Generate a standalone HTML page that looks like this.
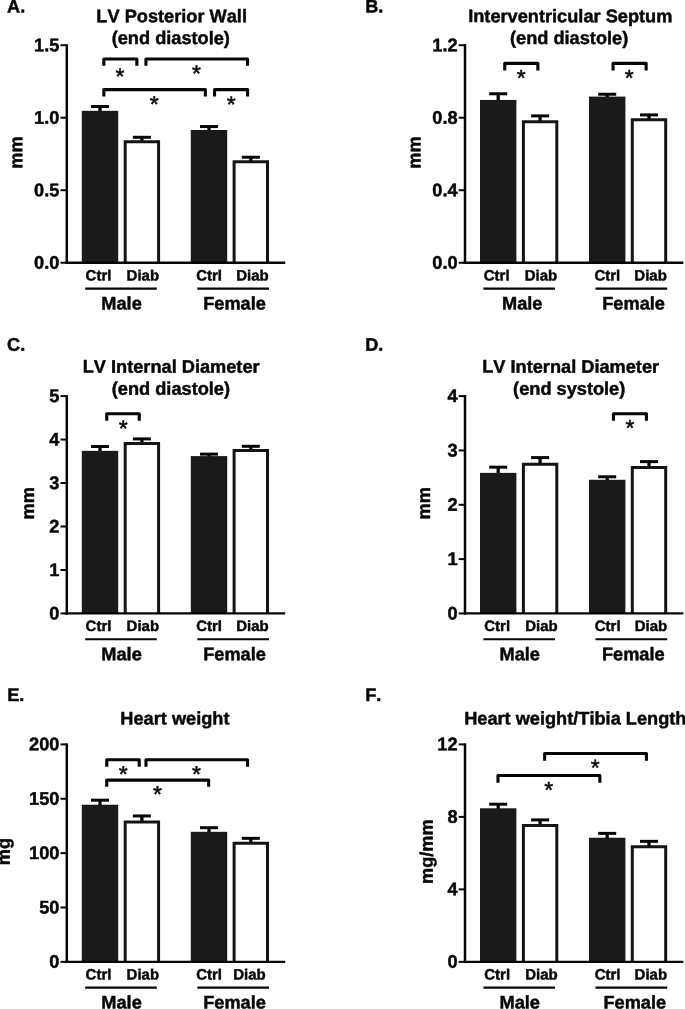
<!DOCTYPE html>
<html lang="en">
<head>
<meta charset="utf-8">
<title>Echocardiography and heart weight - bar charts</title>
<style>
html,body{margin:0;padding:0;background:#fff}
body{width:685px;height:1009px;overflow:hidden}
svg{display:block;will-change:transform;filter:blur(.3px)}
svg text{font-family:"Liberation Sans", sans-serif;font-weight:bold;fill:#060606;stroke:#060606;stroke-width:.45px;stroke-linejoin:round;font-kerning:none;text-rendering:geometricPrecision}
svg text.a{font-weight:normal;stroke:#060606;stroke-width:.5px}
</style>
</head>
<body>
<svg width="685" height="1009" viewBox="0 0 685 1009">
<rect width="685" height="1009" fill="#fff"/>
<g>
<text transform="translate(7 12.6) skewY(.05) scale(1 1)" font-size="18.2" text-anchor="start">A.</text>
<text transform="translate(171.65 22.2) skewY(.05) scale(1 1)" font-size="18.2" text-anchor="middle">LV Posterior Wall</text>
<text transform="translate(170.8 44.1) skewY(.05) scale(1 1)" font-size="18.2" text-anchor="middle">(end diastole)</text>
<path d="M100 111.83V106.48" stroke="#050505" stroke-width="3.3" fill="none"/>
<path d="M91 106.48H109" stroke="#050505" stroke-width="3" fill="none"/>
<rect x="81.8" y="110.83" width="36.4" height="151.92" fill="#1a1a1a"/>
<path d="M141.9 141.2V137.3" stroke="#050505" stroke-width="3.3" fill="none"/>
<path d="M132.9 137.3H150.9" stroke="#050505" stroke-width="3" fill="none"/>
<path d="M125.2 262.75V141.7H158.6V262.75" fill="#fff" stroke="#141414" stroke-width="3"/>
<path d="M209 130.97V126.56" stroke="#050505" stroke-width="3.3" fill="none"/>
<path d="M200 126.56H218" stroke="#050505" stroke-width="3" fill="none"/>
<rect x="190.8" y="129.97" width="36.4" height="132.78" fill="#1a1a1a"/>
<path d="M250.8 161.28V157.24" stroke="#050505" stroke-width="3.3" fill="none"/>
<path d="M241.8 157.24H259.8" stroke="#050505" stroke-width="3" fill="none"/>
<path d="M234.1 262.75V161.78H267.5V262.75" fill="#fff" stroke="#141414" stroke-width="3"/>
<path d="M66.8 44.2V263.9" stroke="#050505" stroke-width="2.5" fill="none"/>
<path d="M65.55 262.75H285.2" stroke="#050505" stroke-width="2.3" fill="none"/>
<path d="M60.5 262.75H66.8" stroke="#050505" stroke-width="2"/>
<text transform="translate(59.4 268.7) skewY(.05) scale(1 1)" font-size="18.2" text-anchor="end">0.0</text>
<path d="M60.5 190.23H66.8" stroke="#050505" stroke-width="2"/>
<text transform="translate(59.4 196.18) skewY(.05) scale(1 1)" font-size="18.2" text-anchor="end">0.5</text>
<path d="M60.5 117.72H66.8" stroke="#050505" stroke-width="2"/>
<text transform="translate(59.4 123.67) skewY(.05) scale(1 1)" font-size="18.2" text-anchor="end">1.0</text>
<path d="M60.5 45.2H66.8" stroke="#050505" stroke-width="2"/>
<text transform="translate(59.4 51.15) skewY(.05) scale(1 1)" font-size="18.2" text-anchor="end">1.5</text>
<text transform="translate(22.2 152.47) rotate(-90) skewY(.05) scale(1 1)" font-size="18.2" text-anchor="middle">mm</text>
<text transform="translate(98.5 280.4) skewY(.05) scale(1 1)" font-size="15" text-anchor="middle">Ctrl</text>
<text transform="translate(142.8 280.4) skewY(.05) scale(1 1)" font-size="15" text-anchor="middle">Diab</text>
<text transform="translate(209.1 280.4) skewY(.05) scale(1 1)" font-size="15" text-anchor="middle">Ctrl</text>
<text transform="translate(252.4 280.4) skewY(.05) scale(1 1)" font-size="15" text-anchor="middle">Diab</text>
<path d="M85.2 288.55H156.8M197.3 288.55H269" stroke="#050505" stroke-width="2.2"/>
<text transform="translate(121.55 309.5) skewY(.05) scale(1 1)" font-size="18.2" text-anchor="middle">Male</text>
<text transform="translate(234.5 309.5) skewY(.05) scale(1 1)" font-size="18.2" text-anchor="middle">Female</text>
<path d="M103.85 65.8V59H136.85V65.8" stroke="#050505" stroke-width="3.1" fill="none" stroke-linejoin="round"/>
<path d="M145.95 65.8V59H247.55V65.8" stroke="#050505" stroke-width="3.1" fill="none" stroke-linejoin="round"/>
<path d="M103.85 96.4V89.6H205.35V96.4" stroke="#050505" stroke-width="3.1" fill="none" stroke-linejoin="round"/>
<path d="M214.55 96.4V89.6H247.55V96.4" stroke="#050505" stroke-width="3.1" fill="none" stroke-linejoin="round"/>
<text transform="translate(120 84.15) skewY(.05) scale(1 1)" font-size="23" text-anchor="middle" class="a">*</text>
<text transform="translate(196.5 81.2) skewY(.05) scale(1 1)" font-size="23" text-anchor="middle" class="a">*</text>
<text transform="translate(154.3 112) skewY(.05) scale(1 1)" font-size="23" text-anchor="middle" class="a">*</text>
<text transform="translate(231.3 112.15) skewY(.05) scale(1 1)" font-size="23" text-anchor="middle" class="a">*</text>
</g>
<g>
<text transform="translate(365.2 12.6) skewY(.05) scale(1 1)" font-size="18.2" text-anchor="start">B.</text>
<text transform="translate(570.25 22.2) skewY(.05) scale(1 1)" font-size="18.2" text-anchor="middle">Interventricular Septum</text>
<text transform="translate(569.1 44.1) skewY(.05) scale(1 1)" font-size="18.2" text-anchor="middle">(end diastole)</text>
<path d="M498.2 100.95V93.79" stroke="#050505" stroke-width="3.3" fill="none"/>
<path d="M489.2 93.79H507.2" stroke="#050505" stroke-width="3" fill="none"/>
<rect x="480" y="99.95" width="36.4" height="162.8" fill="#1a1a1a"/>
<path d="M540.1 121.16V115.9" stroke="#050505" stroke-width="3.3" fill="none"/>
<path d="M531.1 115.9H549.1" stroke="#050505" stroke-width="3" fill="none"/>
<path d="M523.4 262.75V121.66H556.8V262.75" fill="#fff" stroke="#141414" stroke-width="3"/>
<path d="M607.2 97.6V94.24" stroke="#050505" stroke-width="3.3" fill="none"/>
<path d="M598.2 94.24H616.2" stroke="#050505" stroke-width="3" fill="none"/>
<rect x="589" y="96.6" width="36.4" height="166.15" fill="#1a1a1a"/>
<path d="M649 119.17V114.91" stroke="#050505" stroke-width="3.3" fill="none"/>
<path d="M640 114.91H658" stroke="#050505" stroke-width="3" fill="none"/>
<path d="M632.3 262.75V119.67H665.7V262.75" fill="#fff" stroke="#141414" stroke-width="3"/>
<path d="M465 44.2V263.9" stroke="#050505" stroke-width="2.5" fill="none"/>
<path d="M463.75 262.75H683.4" stroke="#050505" stroke-width="2.3" fill="none"/>
<path d="M458.7 262.75H465" stroke="#050505" stroke-width="2"/>
<text transform="translate(457.6 268.7) skewY(.05) scale(1 1)" font-size="18.2" text-anchor="end">0.0</text>
<path d="M458.7 190.23H465" stroke="#050505" stroke-width="2"/>
<text transform="translate(457.6 196.18) skewY(.05) scale(1 1)" font-size="18.2" text-anchor="end">0.4</text>
<path d="M458.7 117.72H465" stroke="#050505" stroke-width="2"/>
<text transform="translate(457.6 123.67) skewY(.05) scale(1 1)" font-size="18.2" text-anchor="end">0.8</text>
<path d="M458.7 45.2H465" stroke="#050505" stroke-width="2"/>
<text transform="translate(457.6 51.15) skewY(.05) scale(1 1)" font-size="18.2" text-anchor="end">1.2</text>
<text transform="translate(420.4 152.47) rotate(-90) skewY(.05) scale(1 1)" font-size="18.2" text-anchor="middle">mm</text>
<text transform="translate(496.7 280.4) skewY(.05) scale(1 1)" font-size="15" text-anchor="middle">Ctrl</text>
<text transform="translate(541 280.4) skewY(.05) scale(1 1)" font-size="15" text-anchor="middle">Diab</text>
<text transform="translate(607.3 280.4) skewY(.05) scale(1 1)" font-size="15" text-anchor="middle">Ctrl</text>
<text transform="translate(650.6 280.4) skewY(.05) scale(1 1)" font-size="15" text-anchor="middle">Diab</text>
<path d="M483.4 288.55H555M595.5 288.55H667.2" stroke="#050505" stroke-width="2.2"/>
<text transform="translate(522.25 309.5) skewY(.05) scale(1 1)" font-size="18.2" text-anchor="middle">Male</text>
<text transform="translate(633.6 309.5) skewY(.05) scale(1 1)" font-size="18.2" text-anchor="middle">Female</text>
<path d="M504.75 70.4V63.35H537.85V70.4" stroke="#050505" stroke-width="3.1" fill="none" stroke-linejoin="round"/>
<path d="M613.05 70.4V63.35H646.15V70.4" stroke="#050505" stroke-width="3.1" fill="none" stroke-linejoin="round"/>
<text transform="translate(521.25 85.85) skewY(.05) scale(1 1)" font-size="23" text-anchor="middle" class="a">*</text>
<text transform="translate(629.3 85.85) skewY(.05) scale(1 1)" font-size="23" text-anchor="middle" class="a">*</text>
</g>
<g>
<text transform="translate(7 350.8) skewY(.05) scale(1 1)" font-size="18.2" text-anchor="start">C.</text>
<text transform="translate(171.15 372.7) skewY(.05) scale(1 1)" font-size="18.2" text-anchor="middle">LV Internal Diameter</text>
<text transform="translate(170.9 394.8) skewY(.05) scale(1 1)" font-size="18.2" text-anchor="middle">(end diastole)</text>
<path d="M100 451.87V446.53" stroke="#050505" stroke-width="3.3" fill="none"/>
<path d="M91 446.53H109" stroke="#050505" stroke-width="3" fill="none"/>
<rect x="81.8" y="450.87" width="36.4" height="162.58" fill="#1a1a1a"/>
<path d="M141.9 442.96V438.92" stroke="#050505" stroke-width="3.3" fill="none"/>
<path d="M132.9 438.92H150.9" stroke="#050505" stroke-width="3" fill="none"/>
<path d="M125.2 613.45V443.46H158.6V613.45" fill="#fff" stroke="#141414" stroke-width="3"/>
<path d="M209 457.09V454.13" stroke="#050505" stroke-width="3.3" fill="none"/>
<path d="M200 454.13H218" stroke="#050505" stroke-width="3" fill="none"/>
<rect x="190.8" y="456.09" width="36.4" height="157.36" fill="#1a1a1a"/>
<path d="M250.8 449.92V446.31" stroke="#050505" stroke-width="3.3" fill="none"/>
<path d="M241.8 446.31H259.8" stroke="#050505" stroke-width="3" fill="none"/>
<path d="M234.1 613.45V450.42H267.5V613.45" fill="#fff" stroke="#141414" stroke-width="3"/>
<path d="M66.8 395.1V614.6" stroke="#050505" stroke-width="2.5" fill="none"/>
<path d="M65.55 613.45H285.2" stroke="#050505" stroke-width="2.3" fill="none"/>
<path d="M60.5 613.45H66.8" stroke="#050505" stroke-width="2"/>
<text transform="translate(59.4 619.4) skewY(.05) scale(1 1)" font-size="18.2" text-anchor="end">0</text>
<path d="M60.5 569.98H66.8" stroke="#050505" stroke-width="2"/>
<text transform="translate(59.4 575.93) skewY(.05) scale(1 1)" font-size="18.2" text-anchor="end">1</text>
<path d="M60.5 526.51H66.8" stroke="#050505" stroke-width="2"/>
<text transform="translate(59.4 532.46) skewY(.05) scale(1 1)" font-size="18.2" text-anchor="end">2</text>
<path d="M60.5 483.04H66.8" stroke="#050505" stroke-width="2"/>
<text transform="translate(59.4 488.99) skewY(.05) scale(1 1)" font-size="18.2" text-anchor="end">3</text>
<path d="M60.5 439.57H66.8" stroke="#050505" stroke-width="2"/>
<text transform="translate(59.4 445.52) skewY(.05) scale(1 1)" font-size="18.2" text-anchor="end">4</text>
<path d="M60.5 396.1H66.8" stroke="#050505" stroke-width="2"/>
<text transform="translate(59.4 402.05) skewY(.05) scale(1 1)" font-size="18.2" text-anchor="end">5</text>
<text transform="translate(34.1 503.28) rotate(-90) skewY(.05) scale(1 1)" font-size="18.2" text-anchor="middle">mm</text>
<text transform="translate(98.5 631.1) skewY(.05) scale(1 1)" font-size="15" text-anchor="middle">Ctrl</text>
<text transform="translate(142.8 631.1) skewY(.05) scale(1 1)" font-size="15" text-anchor="middle">Diab</text>
<text transform="translate(209.1 631.1) skewY(.05) scale(1 1)" font-size="15" text-anchor="middle">Ctrl</text>
<text transform="translate(252.4 631.1) skewY(.05) scale(1 1)" font-size="15" text-anchor="middle">Diab</text>
<path d="M85.2 639.25H156.8M197.3 639.25H269" stroke="#050505" stroke-width="2.2"/>
<text transform="translate(121.55 660.2) skewY(.05) scale(1 1)" font-size="18.2" text-anchor="middle">Male</text>
<text transform="translate(234.5 660.2) skewY(.05) scale(1 1)" font-size="18.2" text-anchor="middle">Female</text>
<path d="M106.75 420.8V413.8H139.25V420.8" stroke="#050505" stroke-width="3.1" fill="none" stroke-linejoin="round"/>
<text transform="translate(123.2 436.15) skewY(.05) scale(1 1)" font-size="23" text-anchor="middle" class="a">*</text>
</g>
<g>
<text transform="translate(365.2 350.8) skewY(.05) scale(1 1)" font-size="18.2" text-anchor="start">D.</text>
<text transform="translate(570.65 372.7) skewY(.05) scale(1 1)" font-size="18.2" text-anchor="middle">LV Internal Diameter</text>
<text transform="translate(569.2 394.8) skewY(.05) scale(1 1)" font-size="18.2" text-anchor="middle">(end systole)</text>
<path d="M498.2 473.88V467.17" stroke="#050505" stroke-width="3.3" fill="none"/>
<path d="M489.2 467.17H507.2" stroke="#050505" stroke-width="3" fill="none"/>
<rect x="480" y="472.88" width="36.4" height="140.57" fill="#1a1a1a"/>
<path d="M540.1 463.77V457.61" stroke="#050505" stroke-width="3.3" fill="none"/>
<path d="M531.1 457.61H549.1" stroke="#050505" stroke-width="3" fill="none"/>
<path d="M523.4 613.45V464.27H556.8V613.45" fill="#fff" stroke="#141414" stroke-width="3"/>
<path d="M607.2 480.78V476.79" stroke="#050505" stroke-width="3.3" fill="none"/>
<path d="M598.2 476.79H616.2" stroke="#050505" stroke-width="3" fill="none"/>
<rect x="589" y="479.78" width="36.4" height="133.67" fill="#1a1a1a"/>
<path d="M649 466.98V461.63" stroke="#050505" stroke-width="3.3" fill="none"/>
<path d="M640 461.63H658" stroke="#050505" stroke-width="3" fill="none"/>
<path d="M632.3 613.45V467.48H665.7V613.45" fill="#fff" stroke="#141414" stroke-width="3"/>
<path d="M465 395.1V614.6" stroke="#050505" stroke-width="2.5" fill="none"/>
<path d="M463.75 613.45H683.4" stroke="#050505" stroke-width="2.3" fill="none"/>
<path d="M458.7 613.45H465" stroke="#050505" stroke-width="2"/>
<text transform="translate(457.6 619.4) skewY(.05) scale(1 1)" font-size="18.2" text-anchor="end">0</text>
<path d="M458.7 559.11H465" stroke="#050505" stroke-width="2"/>
<text transform="translate(457.6 565.06) skewY(.05) scale(1 1)" font-size="18.2" text-anchor="end">1</text>
<path d="M458.7 504.78H465" stroke="#050505" stroke-width="2"/>
<text transform="translate(457.6 510.73) skewY(.05) scale(1 1)" font-size="18.2" text-anchor="end">2</text>
<path d="M458.7 450.44H465" stroke="#050505" stroke-width="2"/>
<text transform="translate(457.6 456.39) skewY(.05) scale(1 1)" font-size="18.2" text-anchor="end">3</text>
<path d="M458.7 396.1H465" stroke="#050505" stroke-width="2"/>
<text transform="translate(457.6 402.05) skewY(.05) scale(1 1)" font-size="18.2" text-anchor="end">4</text>
<text transform="translate(429.9 503.28) rotate(-90) skewY(.05) scale(1 1)" font-size="18.2" text-anchor="middle">mm</text>
<text transform="translate(497.2 631.1) skewY(.05) scale(1 1)" font-size="15" text-anchor="middle">Ctrl</text>
<text transform="translate(541.4 631.1) skewY(.05) scale(1 1)" font-size="15" text-anchor="middle">Diab</text>
<text transform="translate(607.7 631.1) skewY(.05) scale(1 1)" font-size="15" text-anchor="middle">Ctrl</text>
<text transform="translate(651 631.1) skewY(.05) scale(1 1)" font-size="15" text-anchor="middle">Diab</text>
<path d="M483.4 639.25H555M595.5 639.25H667.2" stroke="#050505" stroke-width="2.2"/>
<text transform="translate(519.75 660.2) skewY(.05) scale(1 1)" font-size="18.2" text-anchor="middle">Male</text>
<text transform="translate(633.3 660.2) skewY(.05) scale(1 1)" font-size="18.2" text-anchor="middle">Female</text>
<path d="M613.45 420.8V413.75H646.45V420.8" stroke="#050505" stroke-width="3.1" fill="none" stroke-linejoin="round"/>
<text transform="translate(630 435.85) skewY(.05) scale(1 1)" font-size="23" text-anchor="middle" class="a">*</text>
</g>
<g>
<text transform="translate(7.2 701.1) skewY(.05) scale(1 1)" font-size="18.2" text-anchor="start">E.</text>
<text transform="translate(174.95 724.5) skewY(.05) scale(1 1)" font-size="18.2" text-anchor="middle">Heart weight</text>
<path d="M100 805.74V800.18" stroke="#050505" stroke-width="3.3" fill="none"/>
<path d="M91 800.18H109" stroke="#050505" stroke-width="3" fill="none"/>
<rect x="81.8" y="804.74" width="36.4" height="157.11" fill="#1a1a1a"/>
<path d="M141.9 821.51V815.94" stroke="#050505" stroke-width="3.3" fill="none"/>
<path d="M132.9 815.94H150.9" stroke="#050505" stroke-width="3" fill="none"/>
<path d="M125.2 961.85V822.01H158.6V961.85" fill="#fff" stroke="#141414" stroke-width="3"/>
<path d="M209 832.81V827.68" stroke="#050505" stroke-width="3.3" fill="none"/>
<path d="M200 827.68H218" stroke="#050505" stroke-width="3" fill="none"/>
<rect x="190.8" y="831.81" width="36.4" height="130.04" fill="#1a1a1a"/>
<path d="M250.8 842.82V838.34" stroke="#050505" stroke-width="3.3" fill="none"/>
<path d="M241.8 838.34H259.8" stroke="#050505" stroke-width="3" fill="none"/>
<path d="M234.1 961.85V843.32H267.5V961.85" fill="#fff" stroke="#141414" stroke-width="3"/>
<path d="M66.8 743.4V963" stroke="#050505" stroke-width="2.5" fill="none"/>
<path d="M65.55 961.85H285.2" stroke="#050505" stroke-width="2.3" fill="none"/>
<path d="M60.5 961.85H66.8" stroke="#050505" stroke-width="2"/>
<text transform="translate(59.4 967.8) skewY(.05) scale(1 1)" font-size="18.2" text-anchor="end">0</text>
<path d="M60.5 907.49H66.8" stroke="#050505" stroke-width="2"/>
<text transform="translate(59.4 913.44) skewY(.05) scale(1 1)" font-size="18.2" text-anchor="end">50</text>
<path d="M60.5 853.12H66.8" stroke="#050505" stroke-width="2"/>
<text transform="translate(59.4 859.08) skewY(.05) scale(1 1)" font-size="18.2" text-anchor="end">100</text>
<path d="M60.5 798.76H66.8" stroke="#050505" stroke-width="2"/>
<text transform="translate(59.4 804.71) skewY(.05) scale(1 1)" font-size="18.2" text-anchor="end">150</text>
<path d="M60.5 744.4H66.8" stroke="#050505" stroke-width="2"/>
<text transform="translate(59.4 750.35) skewY(.05) scale(1 1)" font-size="18.2" text-anchor="end">200</text>
<text transform="translate(9.7 851.62) rotate(-90) skewY(.05) scale(1 1)" font-size="18.2" text-anchor="middle">mg</text>
<text transform="translate(98.5 979.5) skewY(.05) scale(1 1)" font-size="15" text-anchor="middle">Ctrl</text>
<text transform="translate(142.8 979.5) skewY(.05) scale(1 1)" font-size="15" text-anchor="middle">Diab</text>
<text transform="translate(209.1 979.5) skewY(.05) scale(1 1)" font-size="15" text-anchor="middle">Ctrl</text>
<text transform="translate(249.4 979.5) skewY(.05) scale(1 1)" font-size="15" text-anchor="middle">Diab</text>
<path d="M85.2 987.65H156.8M197.3 987.65H269" stroke="#050505" stroke-width="2.2"/>
<text transform="translate(121.55 1008.6) skewY(.05) scale(1 1)" font-size="18.2" text-anchor="middle">Male</text>
<text transform="translate(234.5 1008.6) skewY(.05) scale(1 1)" font-size="18.2" text-anchor="middle">Female</text>
<path d="M106.75 766.7V759.7H139.25V766.7" stroke="#050505" stroke-width="3.1" fill="none" stroke-linejoin="round"/>
<path d="M145.95 766.7V759.7H247.55V766.7" stroke="#050505" stroke-width="3.1" fill="none" stroke-linejoin="round"/>
<path d="M106.75 786.8V780.1H208.65V786.8" stroke="#050505" stroke-width="3.1" fill="none" stroke-linejoin="round"/>
<text transform="translate(123.3 781.95) skewY(.05) scale(1 1)" font-size="23" text-anchor="middle" class="a">*</text>
<text transform="translate(196.5 782.05) skewY(.05) scale(1 1)" font-size="23" text-anchor="middle" class="a">*</text>
<text transform="translate(157.4 801.95) skewY(.05) scale(1 1)" font-size="23" text-anchor="middle" class="a">*</text>
</g>
<g>
<text transform="translate(365.2 701.1) skewY(.05) scale(1 1)" font-size="18.2" text-anchor="start">F.</text>
<text transform="translate(575.3 724.5) skewY(.05) scale(1 1)" font-size="18.2" text-anchor="middle">Heart weight/Tibia Length</text>
<path d="M498.2 809.28V804.2" stroke="#050505" stroke-width="3.3" fill="none"/>
<path d="M489.2 804.2H507.2" stroke="#050505" stroke-width="3" fill="none"/>
<rect x="480" y="808.28" width="36.4" height="153.57" fill="#1a1a1a"/>
<path d="M540.1 825.08V819.91" stroke="#050505" stroke-width="3.3" fill="none"/>
<path d="M531.1 819.91H549.1" stroke="#050505" stroke-width="3" fill="none"/>
<path d="M523.4 961.85V825.58H556.8V961.85" fill="#fff" stroke="#141414" stroke-width="3"/>
<path d="M607.2 838.72V833.37" stroke="#050505" stroke-width="3.3" fill="none"/>
<path d="M598.2 833.37H616.2" stroke="#050505" stroke-width="3" fill="none"/>
<rect x="589" y="837.72" width="36.4" height="124.13" fill="#1a1a1a"/>
<path d="M649 846.15V841.35" stroke="#050505" stroke-width="3.3" fill="none"/>
<path d="M640 841.35H658" stroke="#050505" stroke-width="3" fill="none"/>
<path d="M632.3 961.85V846.65H665.7V961.85" fill="#fff" stroke="#141414" stroke-width="3"/>
<path d="M465 743.4V963" stroke="#050505" stroke-width="2.5" fill="none"/>
<path d="M463.75 961.85H683.4" stroke="#050505" stroke-width="2.3" fill="none"/>
<path d="M458.7 961.85H465" stroke="#050505" stroke-width="2"/>
<text transform="translate(457.6 967.8) skewY(.05) scale(1 1)" font-size="18.2" text-anchor="end">0</text>
<path d="M458.7 889.37H465" stroke="#050505" stroke-width="2"/>
<text transform="translate(457.6 895.32) skewY(.05) scale(1 1)" font-size="18.2" text-anchor="end">4</text>
<path d="M458.7 816.88H465" stroke="#050505" stroke-width="2"/>
<text transform="translate(457.6 822.83) skewY(.05) scale(1 1)" font-size="18.2" text-anchor="end">8</text>
<path d="M458.7 744.4H465" stroke="#050505" stroke-width="2"/>
<text transform="translate(457.6 750.35) skewY(.05) scale(1 1)" font-size="18.2" text-anchor="end">12</text>
<text transform="translate(432.8 851.62) rotate(-90) skewY(.05) scale(1 1)" font-size="18.2" text-anchor="middle">mg/mm</text>
<text transform="translate(497.2 979.5) skewY(.05) scale(1 1)" font-size="15" text-anchor="middle">Ctrl</text>
<text transform="translate(541.4 979.5) skewY(.05) scale(1 1)" font-size="15" text-anchor="middle">Diab</text>
<text transform="translate(607.6 979.5) skewY(.05) scale(1 1)" font-size="15" text-anchor="middle">Ctrl</text>
<text transform="translate(650.8 979.5) skewY(.05) scale(1 1)" font-size="15" text-anchor="middle">Diab</text>
<path d="M483.4 987.65H555M595.5 987.65H667.2" stroke="#050505" stroke-width="2.2"/>
<text transform="translate(519.75 1008.6) skewY(.05) scale(1 1)" font-size="18.2" text-anchor="middle">Male</text>
<text transform="translate(634.8 1008.6) skewY(.05) scale(1 1)" font-size="18.2" text-anchor="middle">Female</text>
<path d="M544.65 760.8V753.5H646.45V760.8" stroke="#050505" stroke-width="3.1" fill="none" stroke-linejoin="round"/>
<path d="M497.95 782.7V775.5H599.85V782.7" stroke="#050505" stroke-width="3.1" fill="none" stroke-linejoin="round"/>
<text transform="translate(595.15 775.6) skewY(.05) scale(1 1)" font-size="23" text-anchor="middle" class="a">*</text>
<text transform="translate(548.6 797.8) skewY(.05) scale(1 1)" font-size="23" text-anchor="middle" class="a">*</text>
</g>
</svg>
</body>
</html>
